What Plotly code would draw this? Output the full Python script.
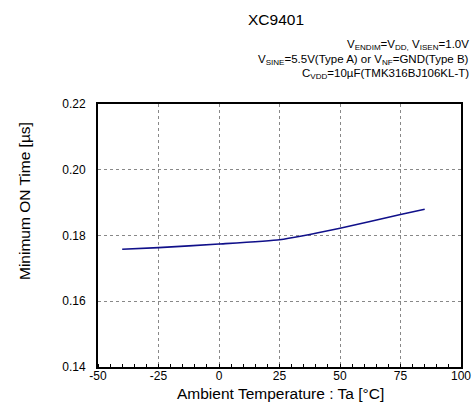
import plotly.graph_objects as go

temps = [-40, -25, 0, 25, 50, 75, 85]
min_on_time = [0.1758, 0.1763, 0.1774, 0.1787, 0.1822, 0.1864, 0.1880]
x_ticks = [-50, -25, 0, 25, 50, 75, 100]
y_ticks = [0.14, 0.16, 0.18, 0.20, 0.22]

FONT = "Liberation Sans, Arial, sans-serif"
W, H = 473, 412
L, R, T, B = 98, 12, 104, 45
ph = H - T - B
pw = W - L - R

fig = go.Figure()
fig.add_trace(go.Scatter(x=temps, y=min_on_time, mode="lines",
                         line=dict(color="#10108a", width=1.6, shape="spline", smoothing=0.4),
                         showlegend=False))

fig.update_xaxes(range=[-50, 100], tickvals=x_ticks, ticktext=[str(v) for v in x_ticks],
                 showgrid=True, gridcolor="#888888", griddash="dot", gridwidth=1,
                 showline=True, linecolor="black", linewidth=2, mirror=True,
                 ticks="", zeroline=False, automargin=False, ticklabelstandoff=-3,
                 minor=dict(dtick=5, ticks="inside", ticklen=3, tickcolor="black", showgrid=False),
                 tickfont=dict(family=FONT, size=12, color="black"))
fig.update_yaxes(range=[0.14, 0.22], tickvals=y_ticks, ticktext=[f"{v:.2f}" for v in y_ticks],
                 showgrid=True, gridcolor="#888888", griddash="dot", gridwidth=1,
                 showline=True, linecolor="black", linewidth=2, mirror=True,
                 ticks="", zeroline=False, automargin=False, ticklabelstandoff=8,
                 tickfont=dict(family=FONT, size=12, color="black"))

def py(pix):
    return (H - B - pix) / ph

def px(pix):
    return (pix - L) / pw

fig.add_annotation(text="Ambient Temperature : Ta [°C]", xref="paper", yref="paper",
                   x=px(280), y=py(393), showarrow=False, xanchor="center", yanchor="middle",
                   font=dict(family=FONT, size=15.5, color="black"))
fig.add_annotation(text="Minimum ON Time [µs]", xref="paper", yref="paper",
                   x=px(24), y=py(201), showarrow=False, xanchor="center", yanchor="middle",
                   textangle=-90, font=dict(family=FONT, size=15.5, color="black"))
fig.add_annotation(text="XC9401", xref="paper", yref="paper", x=px(276), y=py(19),
                   showarrow=False, xanchor="center", yanchor="middle",
                   font=dict(family=FONT, size=15.5, color="black"))
notes = [
    ("V<sub>ENDIM</sub>=V<sub>DD,</sub> V<sub>ISEN</sub>=1.0V", 45),
    ("V<sub>SINE</sub>=5.5V(Type A) or V<sub>NF</sub>=GND(Type B)", 60),
    ("C<sub>VDD</sub>=10µF(TMK316BJ106KL-T)", 74),
]
for txt, ypix in notes:
    fig.add_annotation(text=txt, xref="paper", yref="paper", x=px(471), y=py(ypix),
                       showarrow=False, xanchor="right", yanchor="middle",
                       font=dict(family=FONT, size=11.5, color="black"))

fig.update_layout(width=W, height=H, margin=dict(l=L, r=R, t=T, b=B),
                  plot_bgcolor="white", paper_bgcolor="white")
fig.write_html("out.html", config={"displayModeBar": False},
               post_script="document.body.style.margin='0';document.body.style.overflow='hidden';")
